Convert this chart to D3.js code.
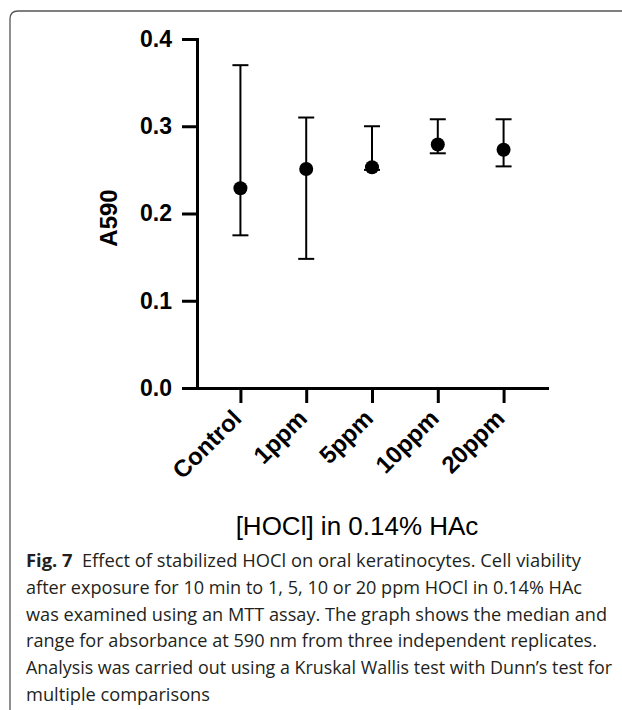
<!DOCTYPE html>
<html>
<head>
<meta charset="utf-8">
<script src="https://cdn.jsdelivr.net/npm/d3@7"></script>
<style>
  html, body { margin: 0; padding: 0; background: #fff; }
  svg { display: block; }
</style>
</head>
<body>
<script>
// ---- data ----
const categories = ["Control", "1ppm", "5ppm", "10ppm", "20ppm"];
const medians = [0.229, 0.251, 0.253, 0.279, 0.273];
const mins    = [0.175, 0.148, 0.250, 0.269, 0.254];
const maxs    = [0.370, 0.310, 0.300, 0.308, 0.308];
const yTicks  = [0.0, 0.1, 0.2, 0.3, 0.4];
const yLabel = "A590";
const xLabel = "[HOCl] in 0.14% HAc";
const captionBold = "Fig. 7";
const captionLines = [
  "Effect of stabilized HOCl on oral keratinocytes. Cell viability",
  "after exposure for 10 min to 1, 5, 10 or 20 ppm HOCl in 0.14% HAc",
  "was examined using an MTT assay. The graph shows the median and",
  "range for absorbance at 590 nm from three independent replicates.",
  "Analysis was carried out using a Kruskal Wallis test with Dunn\u2019s test for",
  "multiple comparisons"
];
const captionWidths = [555, 556, 581, 571, 586, 184];

const W = 622, H = 710;
const svg = d3.select("body").append("svg").attr("width", W).attr("height", H);

// frame border
svg.append("path")
  .attr("d", "M10,712 L10,19 Q10,11 18,11 L624,11")
  .attr("fill", "none").attr("stroke", "#555").attr("stroke-width", 1.3);

const x = d3.scalePoint().domain(categories).range([197, 547]).padding(0.66);
const y = d3.scaleLinear().domain([0, 0.4]).range([388, 39]);

const font = "'Liberation Sans', Arial, sans-serif";

// y axis
const gy = svg.append("g").attr("transform", "translate(197,0)")
  .call(d3.axisLeft(y).tickValues(yTicks).tickFormat(d3.format(".1f")).tickSize(15).tickSizeOuter(0).tickPadding(10));
gy.select(".domain").attr("stroke", "#000").attr("stroke-width", 3).attr("stroke-linecap", "square");
gy.selectAll(".tick line").attr("stroke", "#000").attr("stroke-width", 3);
gy.selectAll(".tick text").attr("fill", "#000").style("font-family", font)
  .style("font-size", "23px").style("font-weight", "bold");

// x axis
const gx = svg.append("g").attr("transform", "translate(0,388)")
  .call(d3.axisBottom(x).tickSize(15).tickSizeOuter(0));
gx.select(".domain").attr("stroke", "#000").attr("stroke-width", 3).attr("stroke-linecap", "square");
gx.selectAll(".tick line").attr("stroke", "#000").attr("stroke-width", 3);
gx.selectAll(".tick text")
  .attr("fill", "#000")
  .attr("y", 0).attr("dy", 0)
  .attr("text-anchor", "end")
  .attr("transform", "translate(2,32) rotate(-45)")
  .style("font-family", font).style("font-size", "24px").style("font-weight", "bold");

// error bars
const rows = categories.map((c, i) => ({ c, med: medians[i], lo: mins[i], hi: maxs[i] }));
const eb = svg.append("g").attr("stroke", "#000").attr("stroke-width", 2);
eb.selectAll("line.v").data(rows).join("line")
  .attr("x1", d => x(d.c)).attr("x2", d => x(d.c))
  .attr("y1", d => y(d.lo)).attr("y2", d => y(d.hi));
eb.selectAll("line.hi").data(rows).join("line")
  .attr("x1", d => x(d.c) - 8).attr("x2", d => x(d.c) + 8)
  .attr("y1", d => y(d.hi)).attr("y2", d => y(d.hi));
eb.selectAll("line.lo").data(rows).join("line")
  .attr("x1", d => x(d.c) - 8).attr("x2", d => x(d.c) + 8)
  .attr("y1", d => y(d.lo)).attr("y2", d => y(d.lo));
svg.append("g").selectAll("circle").data(rows).join("circle")
  .attr("cx", d => x(d.c)).attr("cy", d => y(d.med)).attr("r", 7).attr("fill", "#000");

// axis titles
svg.append("text")
  .attr("transform", "translate(117,218) rotate(-90)")
  .attr("text-anchor", "middle")
  .style("font-family", font).style("font-size", "24px").style("font-weight", "bold")
  .text(yLabel);
svg.append("text")
  .attr("x", 357).attr("y", 535).attr("text-anchor", "middle")
  .style("font-family", font).style("font-size", "26px")
  .text(xLabel);

// caption
const capFont = "'Open Sans', 'Noto Sans', sans-serif";
captionLines.forEach((line, i) => {
  const t = svg.append("text")
    .attr("x", 26).attr("y", 567 + i * 26.8)
    .attr("fill", "#231f20")
    .attr("textLength", captionWidths[i])
    .attr("lengthAdjust", "spacingAndGlyphs")
    .style("font-family", capFont).style("font-size", "17.5px");
  if (i === 0) {
    t.append("tspan").style("font-weight", "bold").text(captionBold);
    t.append("tspan").attr("dx", 9).text(line);
  } else {
    t.text(line);
  }
});
</script>
</body>
</html>
